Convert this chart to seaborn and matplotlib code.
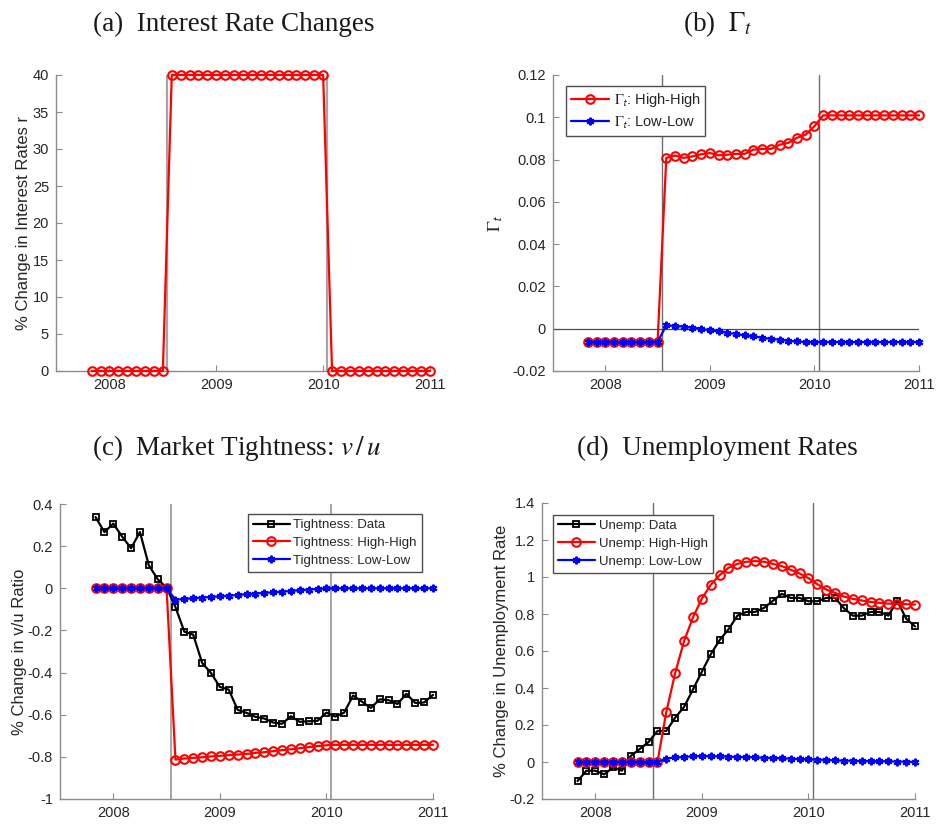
import numpy as np
import pandas as pd
import matplotlib
matplotlib.use("Agg")
import matplotlib.pyplot as plt
from matplotlib.ticker import FuncFormatter
import seaborn as sns

# ---- monthly sample: Nov 2007 .. Jan 2011 ----
months = pd.period_range("2007-11", "2011-01", freq="M")
year_frac = np.array([p.year + (p.month - 1) / 12 for p in months])

# policy window markers (decimal years)
event_lines = [2008.54, 2010.04]

# (a) interest-rate path, % change
rate_hh = [0, 0, 0, 0, 0, 0, 0, 0, 0,
           40, 40, 40, 40, 40, 40, 40, 40, 40, 40, 40, 40, 40, 40, 40, 40, 40, 40,
           0, 0, 0, 0, 0, 0, 0, 0, 0, 0, 0, 0]

# (b) Gamma_t
gamma_hh = [-0.0063, -0.0063, -0.0063, -0.0063, -0.0063, -0.0063, -0.0063, -0.0063, -0.0063,
            0.0808, 0.0819, 0.0808, 0.0815, 0.0825, 0.0831, 0.0820, 0.0823, 0.0827,
            0.0827, 0.0847, 0.0850, 0.0850, 0.0870, 0.0879, 0.0903, 0.0918, 0.0958,
            0.1009, 0.1009, 0.1009, 0.1009, 0.1009, 0.1009, 0.1009, 0.1009, 0.1009,
            0.1009, 0.1009, 0.1009]
gamma_ll = [-0.0063, -0.0063, -0.0063, -0.0063, -0.0063, -0.0063, -0.0063, -0.0063, -0.0063,
            0.0016, 0.0013, 0.0010, 0.0005, 0.0000, -0.0008, -0.0013, -0.0019, -0.0025,
            -0.0032, -0.0036, -0.0043, -0.0048, -0.0052, -0.0057, -0.0060, -0.0063, -0.0063,
            -0.0063, -0.0063, -0.0063, -0.0063, -0.0063, -0.0063, -0.0063, -0.0063, -0.0063,
            -0.0063, -0.0063, -0.0063]

# (c) market tightness v/u, % change
tight_data = [0.338, 0.267, 0.307, 0.245, 0.190, 0.267, 0.109, 0.043, 0.003,
              -0.089, -0.206, -0.220, -0.354, -0.402, -0.468, -0.481, -0.577, -0.591,
              -0.610, -0.618, -0.637, -0.643, -0.607, -0.634, -0.631, -0.629, -0.590,
              -0.609, -0.590, -0.509, -0.538, -0.568, -0.527, -0.531, -0.549, -0.501,
              -0.544, -0.542, -0.506]
tight_hh = [0, 0, 0, 0, 0, 0, 0, 0, 0,
            -0.813, -0.808, -0.805, -0.802, -0.798, -0.795, -0.792, -0.789, -0.786,
            -0.781, -0.778, -0.773, -0.768, -0.764, -0.759, -0.754, -0.749, -0.745,
            -0.743, -0.743, -0.743, -0.743, -0.743, -0.743, -0.743, -0.743, -0.743,
            -0.743, -0.743, -0.743]
tight_ll = [0, 0, 0, 0, 0, 0, 0, 0, 0,
            -0.054, -0.051, -0.047, -0.044, -0.041, -0.038, -0.035, -0.032, -0.028,
            -0.025, -0.022, -0.019, -0.016, -0.013, -0.009, -0.006, -0.003, -0.001,
            0, 0, 0, 0, 0, 0, 0, 0, 0, 0, 0, 0]

# (d) unemployment rate, % change
unemp_data = [-0.103, -0.047, -0.047, -0.067, -0.029, -0.047, 0.033, 0.070, 0.108,
              0.168, 0.168, 0.240, 0.298, 0.392, 0.488, 0.582, 0.659, 0.717,
              0.791, 0.811, 0.811, 0.833, 0.871, 0.909, 0.887, 0.887, 0.869,
              0.869, 0.887, 0.887, 0.831, 0.791, 0.791, 0.811, 0.811, 0.791,
              0.871, 0.775, 0.733]
unemp_hh = [0, 0, 0, 0, 0, 0, 0, 0, 0, 0,
            0.271, 0.482, 0.654, 0.782, 0.883, 0.958, 1.010, 1.050, 1.071,
            1.082, 1.086, 1.082, 1.071, 1.059, 1.039, 1.019, 0.994, 0.961,
            0.932, 0.914, 0.894, 0.882, 0.873, 0.865, 0.860, 0.856, 0.855,
            0.853, 0.851]
unemp_ll = [0, 0, 0, 0, 0, 0, 0, 0, 0, 0,
            0.018, 0.025, 0.027, 0.031, 0.033, 0.031, 0.031, 0.029, 0.027,
            0.027, 0.025, 0.023, 0.022, 0.020, 0.018, 0.016, 0.014, 0.013,
            0.011, 0.009, 0.007, 0.007, 0.005, 0.005, 0.004, 0.004, 0.002,
            0.002, 0.000]

x_ticks = [2008, 2009, 2010, 2011]

# ---- style ----
sns.set_style("ticks")
plt.rcParams["font.family"] = ["Liberation Sans", "DejaVu Sans"]
plt.rcParams["mathtext.fontset"] = "stix"
plt.rcParams["axes.unicode_minus"] = False

SPINE = "#8c8c8c"
TXT = "#262626"

STYLE_HH = dict(color="#ff0000", marker="o", markersize=6.2, markerfacecolor="none",
                markeredgecolor="#ff0000", markeredgewidth=1.5, linewidth=1.6)
STYLE_LL = dict(color="#0000ff", marker=(6, 2, 0), markersize=5.5,
                markeredgecolor="#0000ff", markeredgewidth=1.5, linewidth=1.6)
STYLE_DATA = dict(color="#000000", marker="s", markersize=5, markerfacecolor="none",
                  markeredgecolor="#000000", markeredgewidth=1.3, linewidth=1.6)

fig = plt.figure(figsize=(9.37, 8.27), dpi=100)
W, H = 937, 827


def add_axes(left, top, right, bottom):
    return fig.add_axes([left / W, 1 - bottom / H, (right - left) / W, (bottom - top) / H])


ax_a = add_axes(56, 75, 430, 371)
ax_b = add_axes(553, 75, 919, 371)
ax_c = add_axes(60, 504, 433, 799)
ax_d = add_axes(542, 503, 915, 799)

fmt = FuncFormatter(lambda v, _: f"{v:g}" if abs(v) > 1e-12 else "0")


def draw(ax, series, styles, labels):
    for values, style, label in zip(series, styles, labels):
        df = pd.DataFrame({"year": year_frac, "value": values})
        sns.lineplot(data=df, x="year", y="value", ax=ax, label=label,
                     clip_on=False, zorder=3, **style)


def finish(ax, ylim, yticks, ylabel, label_x, vline_color, vline_w):
    ax.set_xlim(2007.5, 2011)
    ax.set_ylim(*ylim)
    ax.set_xticks(x_ticks)
    ax.set_yticks(yticks)
    ax.yaxis.set_major_formatter(fmt)
    ax.set_xlabel("")
    ax.set_ylabel(ylabel, fontsize=12, color=TXT)
    ax.yaxis.set_label_coords(label_x, 0.5)
    for xv in event_lines:
        ax.axvline(xv, color=vline_color, linewidth=vline_w, zorder=1)
    sns.despine(ax=ax)
    for s in ("left", "bottom"):
        ax.spines[s].set_color(SPINE)
        ax.spines[s].set_linewidth(1.0)
    ax.tick_params(direction="in", length=4, width=0.8, color=SPINE,
                   labelcolor=TXT, labelsize=10.5, pad=5)


LEG = dict(borderaxespad=0, frameon=True, fancybox=False, framealpha=1,
           edgecolor="#4d4d4d", handletextpad=0.3)

# (a)
draw(ax_a, [rate_hh], [STYLE_HH], [None])
finish(ax_a, (0, 40), np.arange(0, 41, 5), "% Change in Interest Rates r", -0.066,
       "#a6a6a6", 1.6)
if ax_a.get_legend() is not None:
    ax_a.get_legend().remove()

# (b)
draw(ax_b, [gamma_hh, gamma_ll], [STYLE_HH, STYLE_LL],
     [r"$\Gamma_{\mathsf{t}}$: High-High", r"$\Gamma_{\mathsf{t}}$: Low-Low"])
finish(ax_b, (-0.02, 0.12), np.round(np.arange(-0.02, 0.121, 0.02), 2),
       r"$\Gamma_{\mathsf{t}}$", -0.13, "#6e6e6e", 1.0)
ax_b.axhline(0, color="#4d4d4d", linewidth=0.9, zorder=1)
ax_b.yaxis.label.set_fontsize(13)
ax_b.legend(loc="upper left", bbox_to_anchor=(0.036, 0.962), fontsize=10.5,
            handlelength=2.6, labelspacing=0.35, borderpad=0.35, **LEG)

# (c)
draw(ax_c, [tight_data, tight_hh, tight_ll], [STYLE_DATA, STYLE_HH, STYLE_LL],
     ["Tightness: Data", "Tightness: High-High", "Tightness: Low-Low"])
finish(ax_c, (-1, 0.4), np.round(np.arange(-1, 0.41, 0.2), 1),
       "% Change in v/u Ratio", -0.088, "#a6a6a6", 1.4)
ax_c.legend(loc="upper right", bbox_to_anchor=(0.9705, 0.966), fontsize=9.5,
            handlelength=2.8, labelspacing=0.42, borderpad=0.38, **LEG)

# (d)
draw(ax_d, [unemp_data, unemp_hh, unemp_ll], [STYLE_DATA, STYLE_HH, STYLE_LL],
     ["Unemp: Data", "Unemp: High-High", "Unemp: Low-Low"])
finish(ax_d, (-0.2, 1.4), np.round(np.arange(-0.2, 1.41, 0.2), 1),
       "% Change in Unemployment Rate", -0.089, "#6e6e6e", 1.0)
ax_d.legend(loc="upper left", bbox_to_anchor=(0.0295, 0.96), fontsize=9.5,
            handlelength=2.8, labelspacing=0.42, borderpad=0.38, **LEG)

# panel captions
cap = dict(ha="center", va="baseline", fontsize=19.5, color="#1a1a1a",
           family=["Liberation Serif", "DejaVu Serif"])
fig.text(234 / W, 1 - 31 / H, "(a)  Interest Rate Changes", **cap)
fig.text(718 / W, 1 - 31 / H, r"(b)  $\Gamma_t$", **cap)
fig.text(237 / W, 1 - 455 / H, r"(c)  Market Tightness: $v\,/\,u$", **cap)
fig.text(717 / W, 1 - 455 / H, "(d)  Unemployment Rates", **cap)

fig.savefig("out.png", dpi=100)
